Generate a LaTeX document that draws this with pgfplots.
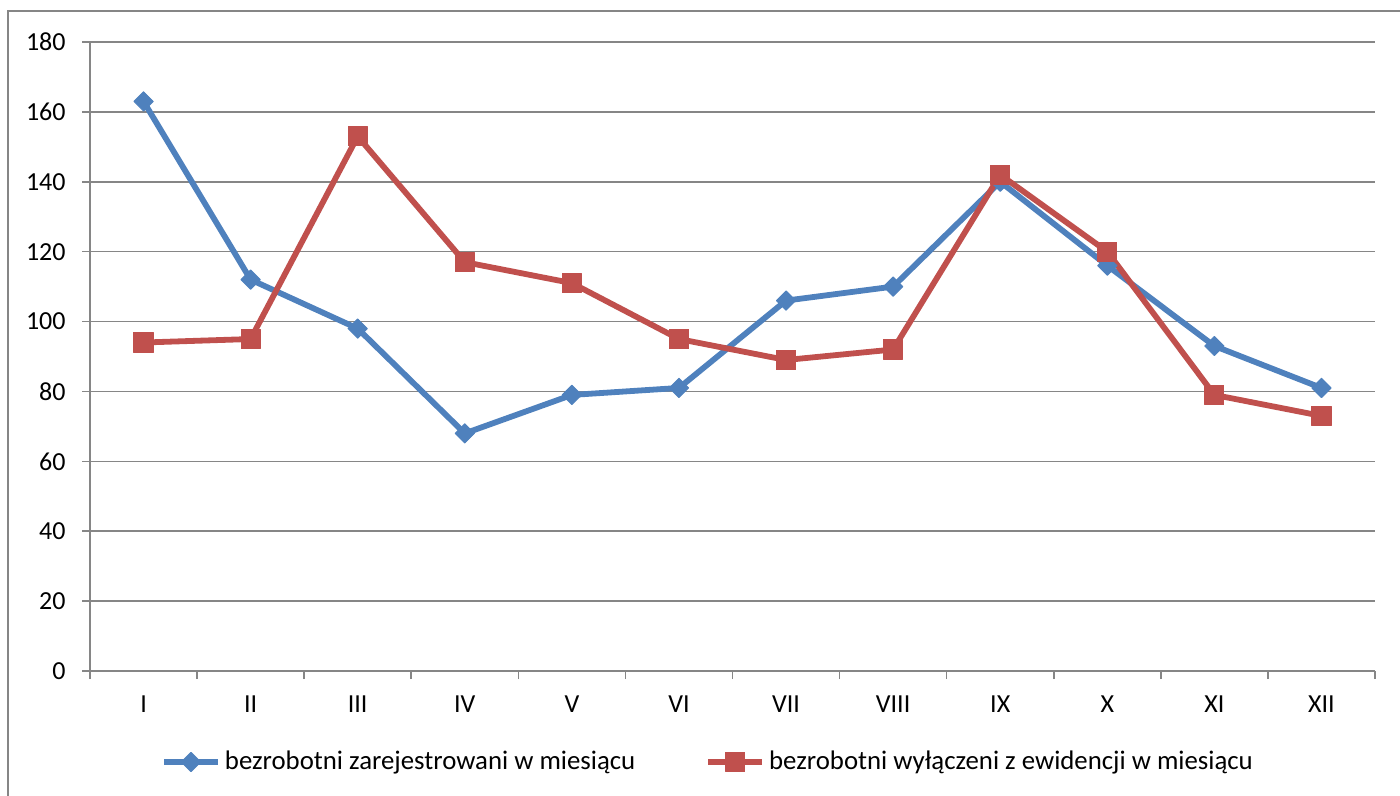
\documentclass[border=0pt]{standalone}
\usepackage{pgfplots}
\pgfplotsset{compat=1.18}
\usepackage{fontspec}
\setmainfont{Carlito}

\definecolor{xlblue}{HTML}{4F81BD}
\definecolor{xlred}{HTML}{C0504D}
\definecolor{xlgrid}{HTML}{868686}

\begin{document}
\begin{tikzpicture}
\useasboundingbox (-45pt,-62.5pt) rectangle (655pt,335.5pt);
\draw[xlgrid, line width=0.7pt] (720pt,330pt) -- (-41pt,330pt) -- (-41pt,-90pt);
\begin{axis}[
    scale only axis,
    width=642.5pt,
    height=314.5pt,
    xmin=-0.5, xmax=11.5,
    ymin=0, ymax=180,
    ytick={0,20,...,180},
    xtick={-0.5,0.5,...,11.5},
    x tick label as interval,
    xticklabels={I,II,III,IV,V,VI,VII,VIII,IX,X,XI,XII},
    axis x line*=bottom,
    axis y line*=left,
    axis line style={draw=xlgrid, line width=0.8pt},
    tick style={draw=xlgrid, line width=0.8pt},
    tick align=outside,
    major tick length=4pt,
    ymajorgrids,
    grid style={draw=xlgrid, line width=0.8pt},
    /pgf/number format/assume math mode=true,
    tick label style={font=\fontsize{13}{15}\selectfont},
    xticklabel style={yshift=-5pt},
    yticklabel style={xshift=-4.7pt},
    legend columns=2,
    legend style={at={(0.4817,-0.1447)}, anchor=center, draw=none,
        font=\fontsize{13.4}{15}\selectfont,
        /tikz/every even column/.append style={column sep=33pt}},
    legend image code/.code={\draw[mark repeat=2,mark phase=2]
        plot coordinates {(0pt,0pt) (13.5pt,0pt) (27pt,0pt)};},
    clip=false,
]
\addplot[xlblue, line width=2.9pt, line join=round, mark=square*,
    mark size=3.4pt, mark options={solid, rotate=45, fill=xlblue, draw=xlblue, line width=0.5pt}]
    coordinates {(0,163) (1,112) (2,98) (3,68) (4,79) (5,81) (6,106) (7,110) (8,140) (9,116) (10,93) (11,81)};
\addplot[xlred, line width=2.9pt, line join=round, mark=square*,
    mark size=4.8pt, mark options={solid, fill=xlred, draw=xlred, line width=0.5pt}]
    coordinates {(0,94) (1,95) (2,153) (3,117) (4,111) (5,95) (6,89) (7,92) (8,142) (9,120) (10,79) (11,73)};
\legend{bezrobotni zarejestrowani w miesiącu, bezrobotni wyłączeni z ewidencji w miesiącu}
\end{axis}
\end{tikzpicture}
\end{document}
